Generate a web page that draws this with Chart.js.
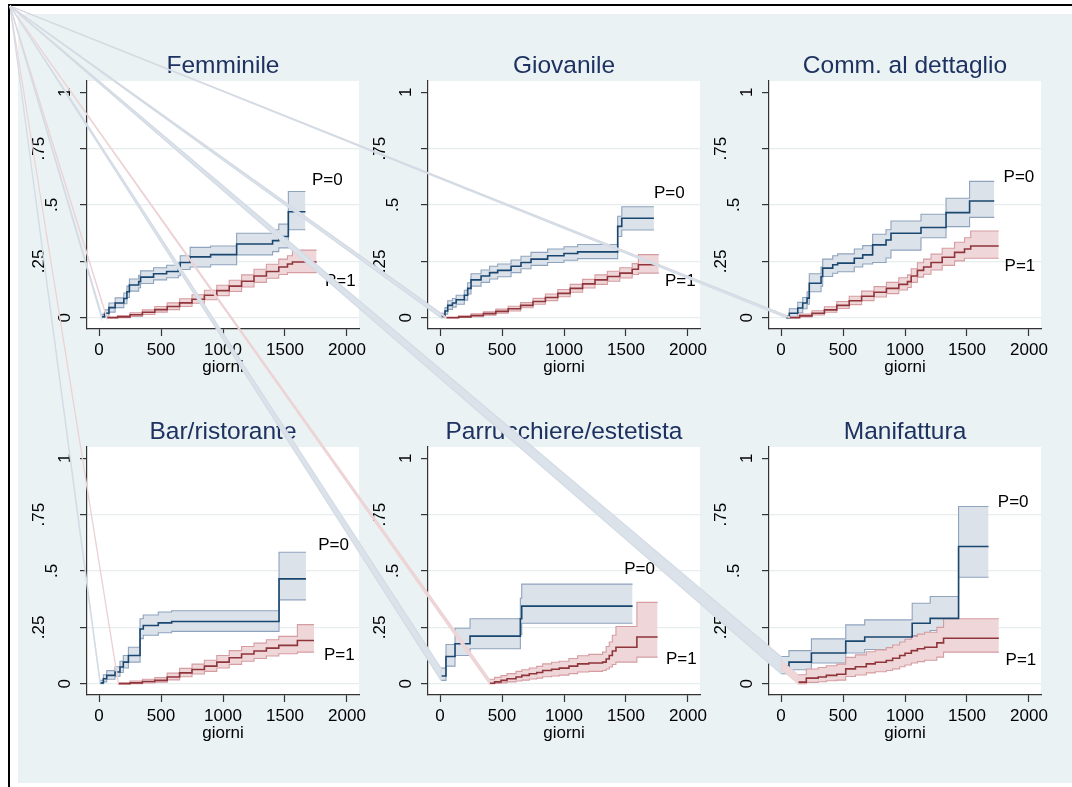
<!DOCTYPE html>
<html><head><meta charset="utf-8">
<script src="https://cdn.jsdelivr.net/npm/chart.js@4.4.0/dist/chart.umd.min.js"></script>
<style>
html,body{margin:0;padding:0;background:#fff;width:1072px;height:787px;overflow:hidden;position:relative;}
#frame{position:absolute;left:8px;top:4px;width:1100px;height:800px;border-left:2px solid #000;border-top:2px solid #000;}
#bg{position:absolute;left:18px;top:14px;width:1054px;height:769px;background:#eaf2f3;}
canvas{position:absolute;}
</style></head><body>
<div id="frame"></div><div id="bg"></div>
<script>
// ---- axis ticks / labels ----
const xTicks=[0,500,1000,1500,2000];
const xTickLabels=['0','500','1000','1500','2000'];
const yTicks=[0,0.25,0.5,0.75,1];
const yTickLabels=['0','.25','.5','.75','1'];
const panelTitles=['Femminile','Giovanile','Comm. al dettaglio','Bar/ristorante','Parrucchiere/estetista','Manifattura'];
const groupLabels=['P=0','P=1'];
const xAxisTitle='giorni';

// ---- Femminile ----
const fem_t0=[20,45,80,130,200,225,245,320,335,440,545,640,655,735,900,1110,1400,1450,1527,1665];
const fem_e0=[.005,.02,.045,.065,.085,.115,.145,.16,.18,.195,.205,.215,.245,.27,.28,.327,.342,.36,.47,.47];
const fem_lo0=[0,.005,.025,.045,.062,.09,.118,.133,.152,.168,.177,.186,.214,.225,.235,.279,.293,.31,.39,.39];
const fem_hi0=[.015,.035,.065,.088,.11,.14,.172,.188,.208,.222,.233,.244,.275,.312,.318,.375,.39,.415,.56,.56];
const fem_t1=[62,150,250,350,450,550,650,750,850,950,1050,1150,1250,1350,1450,1520,1560,1755];
const fem_e1=[0,.004,.013,.024,.036,.05,.066,.082,.1,.12,.14,.162,.185,.205,.225,.238,.247,.247];
const fem_lo1=[0,0,.006,.014,.025,.036,.05,.064,.08,.098,.116,.136,.157,.175,.192,.2,.2,.2];
const fem_hi1=[.004,.01,.022,.035,.05,.066,.084,.102,.122,.144,.166,.19,.215,.237,.26,.275,.3,.3];

// ---- Giovanile ----
const gio_t0=[8,40,62,100,130,196,223,250,331,400,465,573,653,734,868,1000,1110,1433,1466,1725];
const gio_e0=[.008,.03,.055,.065,.08,.1,.13,.168,.185,.2,.21,.228,.245,.26,.275,.285,.292,.405,.441,.441];
const gio_lo0=[0,.016,.037,.047,.06,.078,.105,.14,.157,.172,.182,.2,.217,.232,.245,.255,.262,.36,.389,.389];
const gio_hi0=[.02,.045,.075,.085,.1,.122,.155,.195,.212,.228,.238,.256,.273,.29,.305,.315,.325,.45,.492,.492];
const gio_t1=[48,150,250,350,450,550,650,750,850,950,1050,1150,1250,1350,1450,1550,1600,1765];
const gio_e1=[0,.004,.01,.018,.028,.04,.055,.072,.09,.108,.13,.15,.168,.183,.198,.215,.235,.237];
const gio_lo1=[0,.001,.005,.011,.02,.03,.044,.06,.076,.093,.113,.132,.148,.162,.176,.192,.198,.198];
const gio_hi1=[.003,.009,.017,.026,.038,.051,.067,.086,.105,.125,.148,.17,.19,.206,.222,.24,.28,.28];

// ---- Comm. al dettaglio ----
const com_t0=[40,67,135,175,210,228,323,336,417,457,591,659,739,847,887,1129,1331,1521,1720];
const com_e0=[0,.02,.043,.065,.087,.153,.183,.22,.235,.242,.264,.279,.323,.345,.375,.4,.466,.518,.518];
const com_lo0=[0,.005,.022,.04,.06,.115,.14,.183,.197,.204,.225,.238,.245,.265,.3,.355,.404,.445,.445];
const com_hi0=[.01,.04,.068,.09,.115,.195,.225,.26,.275,.283,.305,.32,.37,.39,.429,.459,.53,.605,.605];
const com_t1=[67,150,250,350,450,550,650,750,850,950,1020,1050,1100,1150,1210,1300,1400,1480,1530,1756];
const com_e1=[0,.008,.02,.035,.055,.075,.095,.113,.13,.148,.16,.185,.21,.225,.245,.268,.29,.305,.318,.318];
const com_lo1=[0,.003,.012,.024,.041,.058,.076,.092,.107,.123,.134,.157,.18,.193,.212,.232,.252,.264,.264,.264];
const com_hi1=[.004,.016,.031,.049,.072,.095,.118,.138,.157,.177,.19,.217,.244,.26,.282,.308,.335,.355,.385,.385];

// ---- Bar/ristorante ----
const bar_t0=[8,35,62,129,169,196,237,331,357,478,586,1452,1669];
const bar_e0=[.004,.022,.037,.052,.074,.096,.125,.243,.258,.27,.276,.465,.465];
const bar_lo0=[0,.008,.02,.033,.05,.07,.096,.2,.215,.226,.232,.372,.372];
const bar_hi0=[.015,.04,.058,.075,.1,.125,.162,.288,.305,.318,.324,.583,.583];
const bar_t1=[156,250,350,450,550,650,750,850,950,1050,1150,1250,1350,1450,1600,1734];
const bar_e1=[0,.004,.01,.015,.03,.048,.063,.078,.096,.115,.132,.145,.158,.17,.192,.192];
const bar_lo1=[0,0,.003,.007,.017,.031,.043,.055,.07,.086,.1,.112,.123,.133,.14,.14];
const bar_hi1=[.005,.012,.02,.027,.047,.068,.087,.104,.125,.147,.165,.18,.195,.21,.262,.262];

// ---- Parrucchiere/estetista ----
const par_t0=[8,48,121,242,648,659,1553];
const par_e0=[.034,.121,.177,.211,.288,.344,.344];
const par_lo0=[.015,.078,.125,.155,.217,.268,.268];
const par_hi0=[.069,.174,.246,.288,.379,.442,.442];
const par_t1=[398,440,492,540,613,660,720,780,828,900,962,1040,1110,1200,1311,1340,1365,1390,1419,1588,1755];
const par_e1=[.002,.008,.015,.022,.03,.037,.044,.05,.059,.064,.069,.078,.088,.092,.096,.11,.125,.145,.162,.207,.207];
const par_lo1=[0,.001,.004,.008,.012,.016,.021,.025,.031,.034,.038,.045,.052,.055,.059,.065,.074,.085,.096,.118,.118];
const par_hi1=[.02,.028,.036,.045,.055,.062,.07,.077,.088,.095,.1,.112,.124,.13,.14,.165,.185,.215,.254,.361,.361];

// ---- Manifattura ----
const man_t0=[0,64,245,522,675,1058,1203,1432,1674];
const man_e0=[.078,.096,.136,.189,.207,.268,.29,.609,.609];
const man_lo0=[.044,.062,.092,.136,.152,.214,.236,.472,.472];
const man_hi0=[.121,.147,.199,.261,.283,.357,.387,.786,.786];
const man_t1=[137,204,300,365,450,522,600,688,760,849,900,957,1000,1051,1100,1158,1257,1311,1757];
const man_e1=[.007,.025,.03,.037,.042,.066,.075,.088,.095,.103,.113,.125,.135,.147,.155,.162,.181,.202,.202];
const man_lo1=[0,.006,.009,.013,.016,.032,.039,.048,.053,.059,.066,.075,.083,.092,.098,.104,.118,.14,.14];
const man_hi1=[.04,.065,.072,.08,.087,.117,.128,.142,.15,.16,.172,.185,.197,.21,.22,.228,.25,.288,.288];

// ---- group label anchors (data units) ----
const lab0X=[1718,1726,1795,1768,1486,1749];
const lab0Y=[0.61,0.553,0.625,0.612,0.509,0.804];
const lab1X=[1823,1814,1803,1814,1822,1811];
const lab1Y=[0.16,0.16,0.23,0.125,0.11,0.103];

const panels=[
 {t0:fem_t0,e0:fem_e0,lo0:fem_lo0,hi0:fem_hi0,t1:fem_t1,e1:fem_e1,lo1:fem_lo1,hi1:fem_hi1},
 {t0:gio_t0,e0:gio_e0,lo0:gio_lo0,hi0:gio_hi0,t1:gio_t1,e1:gio_e1,lo1:gio_lo1,hi1:gio_hi1},
 {t0:com_t0,e0:com_e0,lo0:com_lo0,hi0:com_hi0,t1:com_t1,e1:com_e1,lo1:com_lo1,hi1:com_hi1},
 {t0:bar_t0,e0:bar_e0,lo0:bar_lo0,hi0:bar_hi0,t1:bar_t1,e1:bar_e1,lo1:bar_lo1,hi1:bar_hi1},
 {t0:par_t0,e0:par_e0,lo0:par_lo0,hi0:par_hi0,t1:par_t1,e1:par_e1,lo1:par_lo1,hi1:par_hi1},
 {t0:man_t0,e0:man_e0,lo0:man_lo0,hi0:man_hi0,t1:man_t1,e1:man_e1,lo1:man_lo1,hi1:man_hi1}
];

// ---- styles ----
const LB='#1a476f', LR='#90353b';
const FB='#dce2ea', EB='#8ea3bd';
const FR='#efd7d9', ER='#d59ca1';
const WB='#d3dbe5', WR='#ecd2d4';
const FONT='"Liberation Sans", Arial, Helvetica, sans-serif';
const PLOT_LEFT=[87,428,769];
const ROW_TOP=[14,380];
const CW=362, CH=372, YW=70;

const pts=(t,v)=>t.map((x,i)=>({x:x,y:v[i]}));

const decor={
  id:'decor',
  beforeDraw(ch){
    const a=ch.chartArea,c=ch.ctx;
    c.save();c.fillStyle='#fff';c.fillRect(a.left,a.top,a.right-a.left,a.bottom-a.top);c.restore();
  },
  afterDraw(ch){
    const c=ch.ctx,a=ch.chartArea,ys=ch.scales.y,xs=ch.scales.x,idx=ch.options.plugins.decor.idx;
    c.save();
    c.fillStyle='#000';c.font='17px '+FONT;c.textAlign='center';c.textBaseline='middle';
    yTicks.forEach((v,i)=>{
      const s=yTickLabels[i];
      const cx=a.left-7-2-13*s.length, cy=ys.getPixelForValue(v);
      c.save();c.translate(cx,cy);c.rotate(-Math.PI/2);c.fillText(s,0,0);c.restore();
    });
    c.fillStyle='#1e3262';c.font='24.5px '+FONT;c.textAlign='center';c.textBaseline='alphabetic';
    c.fillText(panelTitles[idx],(a.left+a.right)/2,a.top-8);
    c.fillStyle='#000';c.font='17px '+FONT;c.textAlign='left';c.textBaseline='middle';
    c.fillText(groupLabels[0],xs.getPixelForValue(lab0X[idx]),ys.getPixelForValue(lab0Y[idx]));
    c.fillText(groupLabels[1],xs.getPixelForValue(lab1X[idx]),ys.getPixelForValue(lab1Y[idx]));
    c.restore();
  }
};

const charts=[];
panels.forEach((P,idx)=>{
  const col=idx%3,row=Math.floor(idx/3);
  const cv=document.createElement('canvas');
  cv.width=CW;cv.height=CH;
  cv.style.left=(PLOT_LEFT[col]-YW)+'px';cv.style.top=ROW_TOP[row]+'px';
  cv.style.width=CW+'px';cv.style.height=CH+'px';
  document.body.appendChild(cv);
  const base={pointRadius:0,pointHoverRadius:0,stepped:'before',fill:false};
  const ch=new Chart(cv.getContext('2d'),{
    type:'line',
    data:{datasets:[
      Object.assign({},base,{data:pts(P.t0,P.e0),borderColor:LB,borderWidth:1.6}),
      Object.assign({},base,{data:pts(P.t1,P.e1),borderColor:LR,borderWidth:1.6}),
      Object.assign({},base,{data:pts(P.t1,P.hi1),borderColor:ER,borderWidth:1.1}),
      Object.assign({},base,{data:pts(P.t1,P.lo1),borderColor:ER,borderWidth:1.1,fill:'-1',backgroundColor:FR}),
      Object.assign({},base,{data:pts(P.t0,P.hi0),borderColor:EB,borderWidth:1.1}),
      Object.assign({},base,{data:pts(P.t0,P.lo0),borderColor:EB,borderWidth:1.1,fill:'-1',backgroundColor:FB})
    ]},
    options:{
      responsive:false,animation:false,devicePixelRatio:1,events:[],
      layout:{padding:{left:0,right:20,top:67,bottom:0}},
      plugins:{legend:{display:false},tooltip:{enabled:false},title:{display:false},decor:{idx:idx}},
      scales:{
        x:{type:'linear',min:-97,max:2097,
          afterBuildTicks:s=>{s.ticks=xTicks.map(v=>({value:v}));},
          afterFit:s=>{s.height=CH-315;},
          ticks:{autoSkip:false,maxRotation:0,minRotation:0,padding:4,color:'#000',font:{family:FONT,size:17},
            callback:(v,i)=>xTickLabels[i]},
          grid:{display:true,drawOnChartArea:false,drawTicks:true,tickLength:7,tickColor:'#333',tickWidth:1.2},
          border:{display:true,color:'#333',width:1.2},
          title:{display:true,text:xAxisTitle,color:'#000',font:{family:FONT,size:17,lineHeight:1},padding:{top:0,bottom:10}}
        },
        y:{type:'linear',min:-0.05,max:1.05,
          afterBuildTicks:s=>{s.ticks=yTicks.map(v=>({value:v}));},
          afterFit:s=>{s.width=YW;},
          ticks:{display:false},
          grid:{display:true,drawOnChartArea:true,drawTicks:true,tickLength:7,tickColor:'#333',tickWidth:1.2,lineWidth:1.2,
            color:c=>(c.tick&&c.tick.value===1)?'rgba(0,0,0,0)':'#e6eeef'},
          border:{display:true,color:'#333',width:1.2}
        }
      }
    },
    plugins:[decor]
  });
  charts.push(ch);
});

// ---- overlay: band polygons closing to the page corner, as in the reference ----
const ov=document.createElement('canvas');
ov.width=1072;ov.height=787;ov.style.left='0px';ov.style.top='0px';
document.body.appendChild(ov);
const oc=ov.getContext('2d');
const CX=10, CY=6;
charts.forEach((ch,idx)=>{
  const P=panels[idx];
  const L=parseFloat(ch.canvas.style.left),T=parseFloat(ch.canvas.style.top);
  const xs=ch.scales.x,ys=ch.scales.y;
  [[P.t1,P.lo1,P.hi1,FR,WR],[P.t0,P.lo0,P.hi0,FB,WB]].forEach(([t,lo,hi,f,e])=>{
    const px=L+xs.getPixelForValue(t[0]);
    const pl=T+ys.getPixelForValue(lo[0]),ph=T+ys.getPixelForValue(hi[0]);
    oc.beginPath();oc.moveTo(CX,CY);oc.lineTo(px,ph);oc.lineTo(px,pl);oc.closePath();
    oc.fillStyle=f;oc.fill();
    oc.strokeStyle=e;oc.lineWidth=1.2;oc.stroke();
  });
});
</script>
</body></html>
